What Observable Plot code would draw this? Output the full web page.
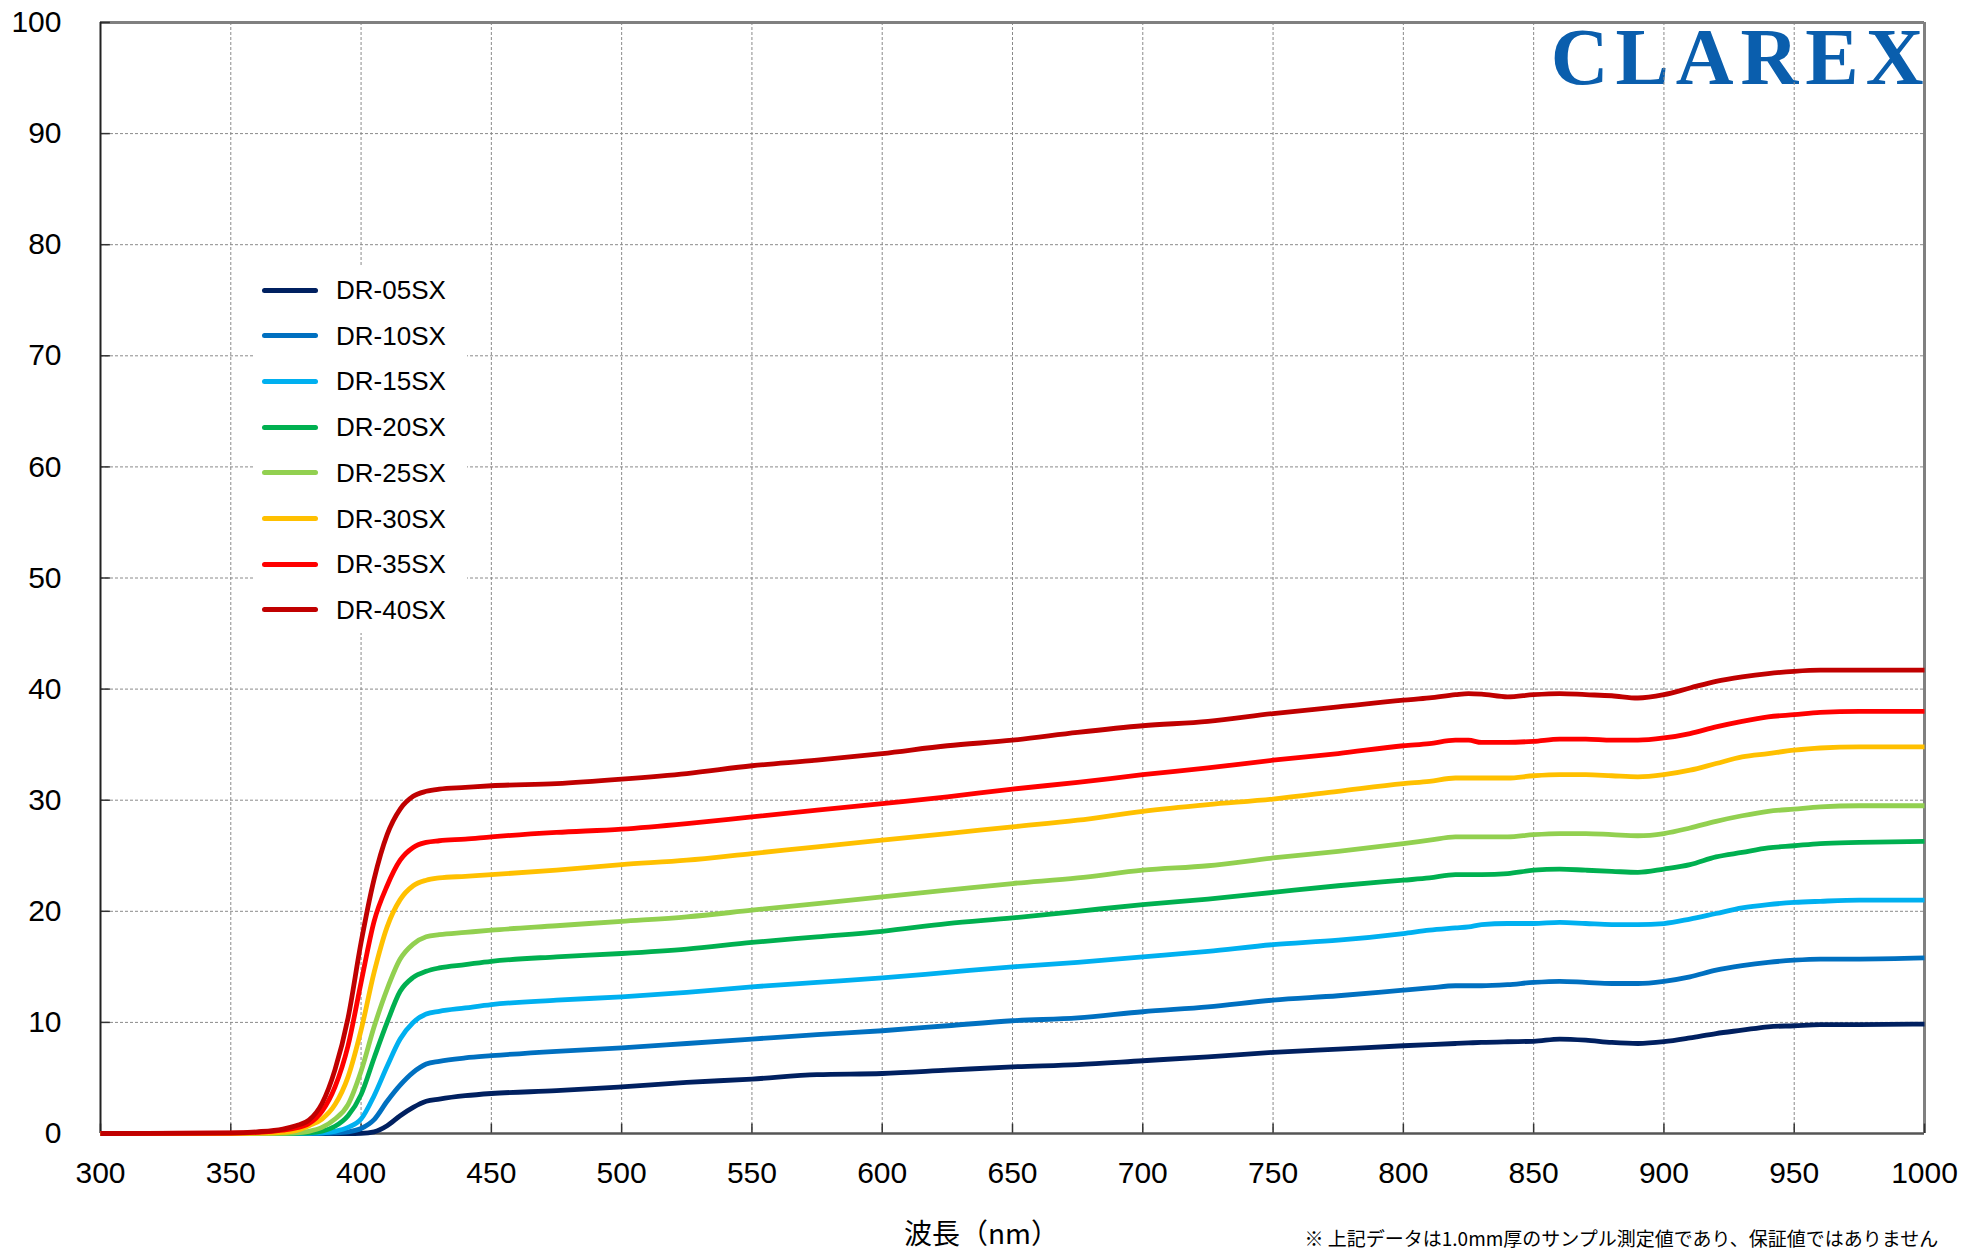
<!DOCTYPE html>
<html>
<head>
<meta charset="utf-8">
<script src="https://cdn.jsdelivr.net/npm/d3@7"></script>
<script src="https://cdn.jsdelivr.net/npm/@observablehq/plot@0.6"></script>
<style>
  html, body { margin: 0; padding: 0; background: #fff; overflow: hidden; }
  #wrap { position: relative; width: 1963px; height: 1254px; overflow: hidden; }
  #wrap svg { display: block; }
  #legend { position: absolute; left: 255px; top: 267px; width: 212px; height: 366px; background: #fff;
            font-family: "Liberation Sans", Arial, sans-serif; font-size: 26px; color: #000; }
  .row { position: absolute; left: 0; height: 30px; display: flex; align-items: center; }
  .swatch { position: absolute; left: 7px; width: 56px; height: 5px; border-radius: 3px; }
  .lbl { position: absolute; left: 81px; line-height: 30px; white-space: nowrap; }
</style>
</head>
<body>
<div id="wrap"></div>
<script>
// ---- data (transmittance %) ----
const wavelengths = [300, 350, 360, 370, 375, 380, 385, 390, 395, 400,
  405, 410, 415, 420, 425, 430, 440, 450,
  475, 500, 525, 550, 575, 600, 625, 650, 675, 700, 725, 750, 775, 800,
  810, 820, 825, 830, 840, 850, 860, 870, 880, 890, 900,
  910, 920, 930, 940, 950, 960, 975, 1000];

const seriesNames = ["DR-05SX", "DR-10SX", "DR-15SX", "DR-20SX", "DR-25SX", "DR-30SX", "DR-35SX", "DR-40SX"];
const seriesColors = ["#002060", "#0070C0", "#00B0F0", "#00B050", "#92D050", "#FFC000", "#FF0000", "#C00000"];

const dr05 = [0,0,0,0,0,0,0,0,0,0.02,
  0.15,0.7,1.6,2.35,2.9,3.1,3.4,3.6,
  3.85,4.2,4.6,4.9,5.3,5.4,5.7,6.0,6.2,6.55,6.9,7.3,7.6,7.9,
  8.0,8.1,8.15,8.2,8.26,8.3,8.5,8.4,8.2,8.1,8.26,
  8.6,9.0,9.3,9.6,9.7,9.8,9.8,9.85];
const dr10 = [0,0,0,0,0,0,0.02,0.05,0.15,0.45,
  1.25,2.9,4.35,5.5,6.25,6.5,6.8,7.0,
  7.4,7.7,8.1,8.5,8.9,9.25,9.7,10.15,10.4,10.96,11.4,12.0,12.4,12.9,
  13.1,13.3,13.3,13.3,13.4,13.6,13.7,13.6,13.5,13.5,13.7,
  14.1,14.7,15.1,15.4,15.6,15.7,15.7,15.8];
const dr15 = [0,0,0,0,0,0.02,0.05,0.2,0.55,1.3,
  3.4,6.05,8.5,10.0,10.75,11.0,11.3,11.6,
  12.0,12.3,12.7,13.2,13.6,14.0,14.5,15.0,15.4,15.9,16.4,17.0,17.4,18.0,
  18.3,18.5,18.6,18.8,18.9,18.9,19.0,18.9,18.8,18.8,18.9,
  19.3,19.8,20.3,20.6,20.8,20.9,21.0,21.0];
const dr20 = [0,0,0,0,0.02,0.05,0.2,0.65,1.6,3.5,
  6.8,10.0,12.8,14.05,14.6,14.9,15.2,15.5,
  15.9,16.2,16.6,17.2,17.7,18.2,18.9,19.4,20.0,20.6,21.1,21.7,22.3,22.8,
  23.0,23.3,23.3,23.3,23.4,23.7,23.8,23.7,23.6,23.5,23.8,
  24.2,24.9,25.3,25.7,25.9,26.1,26.2,26.3];
const dr25 = [0,0,0,0.02,0.05,0.2,0.55,1.3,2.6,5.6,
  9.6,13.0,15.7,17.05,17.7,17.9,18.1,18.3,
  18.7,19.1,19.5,20.1,20.7,21.3,21.9,22.5,23.0,23.7,24.1,24.8,25.4,26.1,
  26.4,26.7,26.7,26.7,26.7,26.9,27.0,27.0,26.9,26.8,27.0,
  27.5,28.1,28.6,29.0,29.2,29.4,29.5,29.5];
const dr30 = [0,0,0.03,0.1,0.25,0.7,1.3,2.6,5.1,9.3,
  14.5,18.6,21.05,22.3,22.8,23.0,23.15,23.3,
  23.7,24.2,24.6,25.2,25.8,26.4,27.0,27.6,28.2,29.0,29.6,30.1,30.8,31.5,
  31.7,32.0,32.0,32.0,32.0,32.2,32.3,32.3,32.2,32.1,32.3,
  32.7,33.3,33.9,34.2,34.5,34.7,34.8,34.8];
const dr35 = [0,0.03,0.1,0.3,0.5,0.9,2.0,4.2,7.9,13.6,
  19.1,22.3,24.6,25.75,26.2,26.35,26.5,26.7,
  27.1,27.4,27.9,28.5,29.1,29.7,30.3,31.0,31.6,32.3,32.9,33.6,34.2,34.9,
  35.1,35.4,35.4,35.2,35.2,35.3,35.5,35.5,35.4,35.4,35.6,
  36.0,36.6,37.1,37.5,37.7,37.9,38.0,38.0];
const dr40 = [0,0.05,0.15,0.4,0.7,1.2,2.7,5.75,10.4,17.2,
  22.9,26.9,29.2,30.35,30.8,31.0,31.15,31.3,
  31.5,31.9,32.4,33.1,33.6,34.2,34.9,35.4,36.1,36.7,37.1,37.8,38.4,39.0,
  39.2,39.5,39.6,39.55,39.3,39.5,39.6,39.5,39.4,39.2,39.5,
  40.1,40.7,41.1,41.4,41.6,41.7,41.7,41.7];

const xTicks = [300, 350, 400, 450, 500, 550, 600, 650, 700, 750, 800, 850, 900, 950, 1000];
const yTicks = [0, 10, 20, 30, 40, 50, 60, 70, 80, 90, 100];
const xGrid = [350, 400, 450, 500, 550, 600, 650, 700, 750, 800, 850, 900, 950];
const yGrid = [10, 20, 30, 40, 50, 60, 70, 80, 90];

const xLabel = "波長（nm）";
const caption = "※ 上記データは1.0mm厚のサンプル測定値であり、保証値ではありません";
const logoText = "CLAREX";

// ---- build table ----
const seriesValues = [dr05, dr10, dr15, dr20, dr25, dr30, dr35, dr40];
const rows = [];
seriesNames.forEach((name, i) => {
  wavelengths.forEach((wl, j) => rows.push({name, wl, v: seriesValues[i][j]}));
});

const sans = '"Liberation Sans", Arial, sans-serif';
const cjk = '"Noto Sans CJK JP", "Noto Sans", sans-serif';

const chart = Plot.plot({
  width: 1963,
  height: 1254,
  marginLeft: 100,
  marginRight: 39,
  marginTop: 22,
  marginBottom: 121,
  style: {fontFamily: sans, background: "#fff", color: "#000"},
  x: {domain: [300, 1000]},
  y: {domain: [0, 100]},
  color: {domain: seriesNames, range: seriesColors},
  marks: [
    Plot.text([logoText], {frameAnchor: "top-right", textAnchor: "end", lineAnchor: "bottom",
      dx: 6, dy: 61, fontSize: 80, fontWeight: "bold", fontFamily: '"Liberation Serif", "DejaVu Serif", serif',
      fill: "#0A5EAD"}),
    Plot.gridX(xGrid, {stroke: "#8a8a8a", strokeOpacity: 1, strokeWidth: 1, strokeDasharray: "3,2"}),
    Plot.gridY(yGrid, {stroke: "#8a8a8a", strokeOpacity: 1, strokeWidth: 1, strokeDasharray: "3,2"}),
    Plot.ruleY([100], {stroke: "#808080", strokeWidth: 3}),
    Plot.ruleX([1000], {stroke: "#808080", strokeWidth: 3}),
    Plot.ruleX(xTicks, {x: d => d, y1: 0, y2: 0.85, stroke: "#333", strokeWidth: 1.5}),
    Plot.ruleY(yTicks, {y: d => d, x1: 300, x2: 303.8, stroke: "#333", strokeWidth: 1.5}),
    Plot.ruleX([300], {stroke: "#222", strokeWidth: 2}),
    Plot.ruleY([0], {stroke: "#555", strokeWidth: 2.5}),
    Plot.line(rows, {x: "wl", y: "v", z: "name", stroke: "name", strokeWidth: 4.8,
      curve: "monotone-x", strokeLinejoin: "round", strokeLinecap: "butt"}),
    Plot.axisX(xTicks, {anchor: "bottom", tickSize: 0, tickPadding: 28, fontSize: 30,
      tickFormat: d => `${d}`, label: null, fill: "#000"}),
    Plot.axisY(yTicks, {anchor: "left", tickSize: 0, tickPadding: 39, fontSize: 30,
      tickFormat: d => `${d}`, label: null, fill: "#000"}),
    Plot.text([xLabel], {frameAnchor: "bottom", dx: -31, dy: 102, lineAnchor: "middle",
      fontSize: 28, fontFamily: cjk, fill: "#000"}),
    Plot.text([caption], {frameAnchor: "bottom-left", dx: 1204, dy: 106, textAnchor: "start",
      lineAnchor: "middle", fontSize: 19, fontFamily: cjk, fill: "#000"})
  ]
});

// letter spacing for logo
d3.select(chart).selectAll("text").filter(function() { return this.textContent === logoText; })
  .style("letter-spacing", "7px");

const wrap = document.getElementById("wrap");
wrap.appendChild(chart);

// legend (HTML overlay, built from the series arrays)
const legend = document.createElement("div");
legend.id = "legend";
seriesNames.forEach((name, i) => {
  const row = document.createElement("div");
  row.className = "row";
  row.style.top = (23 + i * 45.7 - 15) + "px";
  row.style.width = "212px";
  const sw = document.createElement("div");
  sw.className = "swatch";
  sw.style.background = seriesColors[i];
  sw.style.top = "12.5px";
  const lb = document.createElement("div");
  lb.className = "lbl";
  lb.textContent = name;
  row.appendChild(sw);
  row.appendChild(lb);
  legend.appendChild(row);
});
wrap.appendChild(legend);
</script>
</body>
</html>
